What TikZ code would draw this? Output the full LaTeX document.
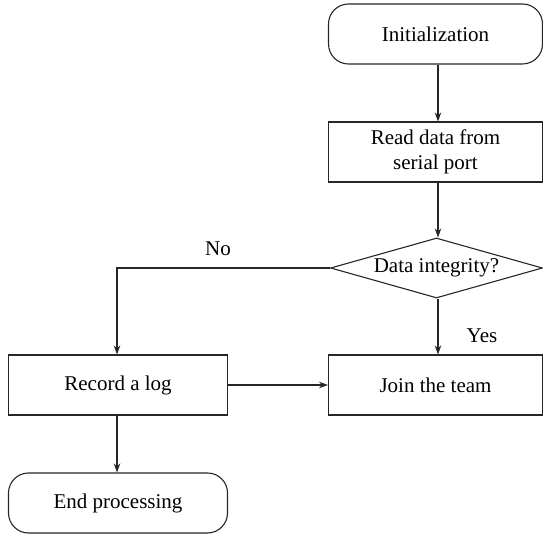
\documentclass[tikz,border=0pt]{standalone}
\usepackage{fontspec}
\setmainfont{Liberation Serif}
\usetikzlibrary{shapes.geometric,arrows.meta}
\begin{document}
\begin{tikzpicture}[x=1pt,y=-1pt,
  base/.style={draw=black!85, line width=1.1pt, font=\fontsize{21}{25}\selectfont, align=center, inner sep=0pt},
  term/.style={base, rounded corners=20pt, minimum width=214pt, minimum height=60pt},
  proc/.style={base, minimum width=214pt, minimum height=60pt},
  dec/.style={base, diamond, aspect=3.55, minimum width=212pt, minimum height=60pt},
  arr/.style={draw=black!85, line width=1.1pt, -{Stealth[length=9pt,width=6.5pt]}},
  lbl/.style={font=\fontsize{21}{25}\selectfont, inner sep=0pt}]
\useasboundingbox (0,0) rectangle (543,534);
\node[term] (init) at (435.5,34) {Initialization};
\node[proc] (read) at (435.5,152) {Read data from\\serial port};
\node[dec] (dec) at (436.5,268) {Data integrity?};
\node[proc, minimum width=219pt] (rec) at (118,385) {Record a log};
\node[proc] (join) at (435.5,385) {Join the team};
\node[term, minimum width=219pt] (end) at (118,503) {End processing};
\coordinate (c1) at (117,268);
\draw[arr] (init.south -| 438,0) -- (read.north -| 438,0);
\draw[arr] (read.south -| 438,0) -- (dec.north -| 438,0);
\draw[arr] (dec.south -| 438,0) -- (join.north -| 438,0);
\draw[arr] (dec.west) -- (c1) -- (rec.north -| c1);
\draw[arr] (rec.east) -- (join.west);
\draw[arr] (rec.south -| c1) -- (end.north -| c1);
\node[lbl] (no) at (218,249) {No};
\node[lbl] (yes) at (482,336) {Yes};
\end{tikzpicture}
\end{document}
